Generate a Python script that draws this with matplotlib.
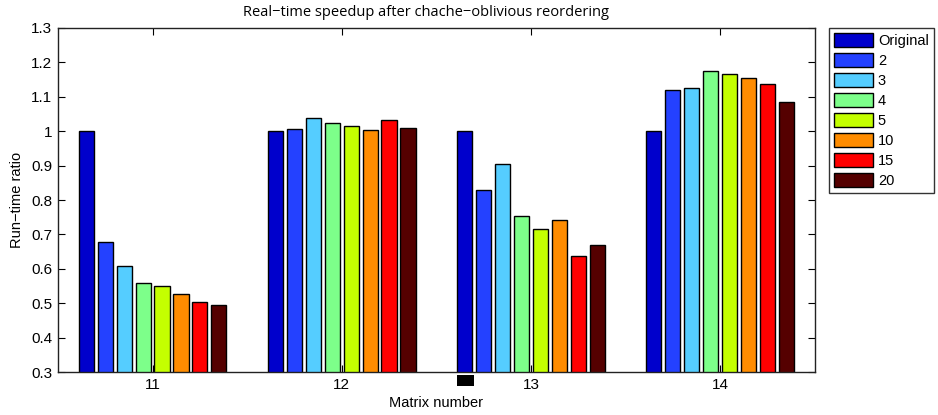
import matplotlib
matplotlib.use("Agg")
import matplotlib.pyplot as plt
import numpy as np
from matplotlib.patches import Rectangle

groups = ["11", "12", "13", "14"]
series = ["Original", "2", "3", "4", "5", "10", "15", "20"]
values = {
    "Original": [1.000, 1.000, 1.000, 1.000],
    "2":        [0.677, 1.006, 0.829, 1.118],
    "3":        [0.608, 1.037, 0.904, 1.126],
    "4":        [0.560, 1.023, 0.753, 1.173],
    "5":        [0.550, 1.015, 0.717, 1.167],
    "10":       [0.526, 1.003, 0.742, 1.154],
    "15":       [0.504, 1.032, 0.638, 1.137],
    "20":       [0.495, 1.008, 0.668, 1.083],
}
colors = ["#0000CC", "#2441FF", "#55CDFF", "#7DFF8A", "#C4FF00", "#FF8C00", "#FF0000", "#550000"]
yticks = [0.3, 0.4, 0.5, 0.6, 0.7, 0.8, 0.9, 1.0, 1.1, 1.2, 1.3]
ytick_labels = ["0.3", "0.4", "0.5", "0.6", "0.7", "0.8", "0.9", "1", "1.1", "1.2", "1.3"]

plt.rcParams['font.family'] = ['Liberation Sans', 'DejaVu Sans']

fig = plt.figure(figsize=(9.38, 4.15), dpi=100)
W, H = 938, 415
ax = fig.add_axes([58 / W, 1 - 372.3 / H, (814.7 - 58) / W, (372.3 - 27.7) / H])

x = np.arange(1, len(groups) + 1)
n = len(series)
slot = 0.8 / n
for i, s in enumerate(series):
    off = (i - (n - 1) / 2) * slot
    ax.bar(x + off, values[s], width=slot * 0.8, bottom=0, color=colors[i],
           edgecolor="black", linewidth=1.0, label=s, zorder=2)

ax.set_xlim(0.5, 4.5)
ax.set_ylim(0.3, 1.3)
ax.set_xticks(x)
ax.set_xticklabels(groups)
ax.set_yticks(yticks)
ax.set_yticklabels(ytick_labels)
ax.tick_params(direction="in", top=True, right=True, length=5, width=0.8,
               labelsize=11, pad=4, colors="black")
for sp in ax.spines.values():
    sp.set_linewidth(1.0)
    sp.set_color("#222222")

ax.set_ylabel("Run\u2212time ratio", fontsize=10.5, labelpad=5)
ax.set_xlabel("Matrix number", fontsize=10.5, labelpad=3)
fig.text(426 / W, 1 - 12 / H, "Real\u2212time speedup after chache\u2212oblivious reordering",
         ha="center", va="center", fontsize=10.5, family=['Open Sans', 'DejaVu Sans'])

leg = ax.legend(loc="upper left", bbox_to_anchor=(829 / W, 1 - 28 / H),
                bbox_transform=fig.transFigure, fontsize=10.5, frameon=True,
                fancybox=False, edgecolor="black", handlelength=2.7,
                handleheight=1.05, labelspacing=0.36, handletextpad=0.3,
                borderpad=0.35, borderaxespad=0)
leg.get_frame().set_linewidth(1.0)

fig.patches.append(Rectangle((457.3 / W, 1 - 385.7 / H), 16.7 / W, 10.4 / H,
                             transform=fig.transFigure, facecolor="black",
                             edgecolor="none"))

fig.savefig("out.png", dpi=100)
